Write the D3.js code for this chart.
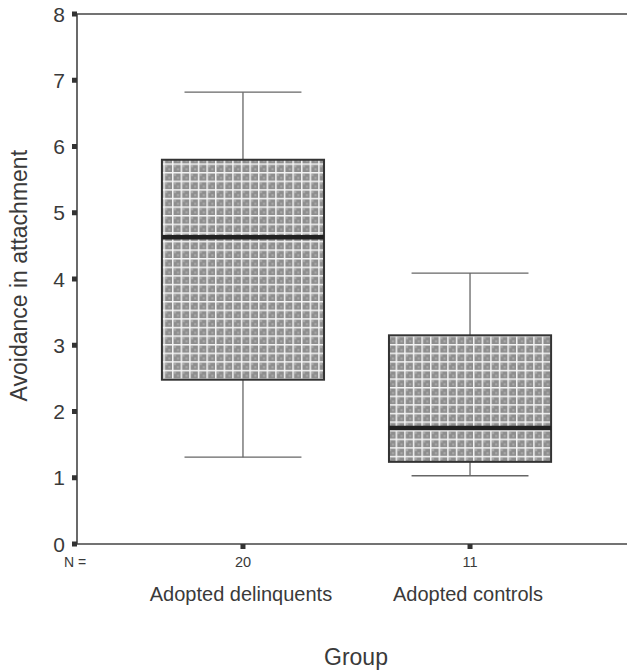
<!DOCTYPE html>
<html>
<head>
<meta charset="utf-8">
<script src="https://cdn.jsdelivr.net/npm/d3@7"></script>
<style>
  body { margin: 0; background: #fff; }
  text { font-family: "Liberation Sans", Arial, sans-serif; fill: #3a3a3a; }
</style>
</head>
<body>
<div id="chart"></div>
<script>
// group boxplot summaries
const groups = ['Adopted delinquents', 'Adopted controls'];
const counts = [20, 11];
const whiskerLow = [1.31, 1.03];
const q1 = [2.48, 1.24];
const median = [4.63, 1.75];
const q3 = [5.80, 3.15];
const whiskerHigh = [6.82, 4.09];
const yTicks = [0, 1, 2, 3, 4, 5, 6, 7, 8];

const width = 627, height = 671;
const margin = { top: 14, left: 77, bottom: 127 };

const svg = d3.select('#chart').append('svg')
  .attr('width', width)
  .attr('height', height);

// grey dither with white grid, like the printed fill
const pat = svg.append('defs').append('pattern')
  .attr('id', 'grid')
  .attr('patternUnits', 'userSpaceOnUse')
  .attr('width', 8.6)
  .attr('height', 8.6);
pat.append('rect').attr('width', 8.6).attr('height', 8.6).attr('fill', '#8e8e8e');
pat.append('rect').attr('x', 2).attr('y', 2).attr('width', 2).attr('height', 2).attr('fill', '#acacac');
pat.append('rect').attr('x', 5).attr('y', 5).attr('width', 2).attr('height', 2).attr('fill', '#acacac');
pat.append('rect').attr('x', 0).attr('y', 0).attr('width', 8.6).attr('height', 1.5).attr('fill', '#f4f4f4');
pat.append('rect').attr('x', 0).attr('y', 0).attr('width', 1.5).attr('height', 8.6).attr('fill', '#f4f4f4');

const y = d3.scaleLinear()
  .domain([0, 8])
  .range([height - margin.bottom, margin.top]);

const x = d3.scaleBand()
  .domain(groups)
  .range([margin.left, 636])
  .paddingInner(0)
  .paddingOuter(0.231);

const boxW = x.bandwidth() * 0.714;
const capW = x.bandwidth() * 0.515;
const cx = d => x(d) + x.bandwidth() / 2;

// axes frame
svg.append('line')
  .attr('x1', margin.left).attr('x2', width)
  .attr('y1', y(8)).attr('y2', y(8))
  .attr('stroke', '#444').attr('stroke-width', 1.6);
svg.append('line')
  .attr('x1', margin.left).attr('x2', width)
  .attr('y1', y(0)).attr('y2', y(0))
  .attr('stroke', '#444').attr('stroke-width', 1.6);
svg.append('line')
  .attr('x1', margin.left).attr('x2', margin.left)
  .attr('y1', y(0)).attr('y2', y(8))
  .attr('stroke', '#444').attr('stroke-width', 1.6);

// square tick marks
svg.selectAll('.ytick')
  .data(yTicks)
  .join('rect')
  .attr('x', margin.left - 5)
  .attr('y', d => y(d) - 2.5)
  .attr('width', 5)
  .attr('height', 5)
  .attr('fill', '#333');

svg.selectAll('.ylab')
  .data(yTicks)
  .join('text')
  .attr('x', 65)
  .attr('y', d => y(d))
  .attr('dy', '0.36em')
  .attr('text-anchor', 'end')
  .attr('font-size', 21)
  .text(d => d);

svg.selectAll('.xtick')
  .data(groups)
  .join('rect')
  .attr('x', d => cx(d) - 2.5)
  .attr('y', y(0))
  .attr('width', 5)
  .attr('height', 5)
  .attr('fill', '#333');

// N counts
svg.append('text')
  .attr('x', 64).attr('y', 567)
  .attr('font-size', 14)
  .text('N =');
svg.selectAll('.nlab')
  .data(groups)
  .join('text')
  .attr('x', d => cx(d))
  .attr('y', 567)
  .attr('text-anchor', 'middle')
  .attr('font-size', 14.5)
  .text((d, i) => counts[i]);

svg.selectAll('.xlab')
  .data(groups)
  .join('text')
  .attr('x', d => cx(d) - 2)
  .attr('y', 601)
  .attr('text-anchor', 'middle')
  .attr('font-size', 20)
  .text(d => d);

svg.append('text')
  .attr('x', 356).attr('y', 665)
  .attr('text-anchor', 'middle')
  .attr('font-size', 23)
  .text('Group');

svg.append('text')
  .attr('transform', `translate(27, ${y(4.05)}) rotate(-90)`)
  .attr('text-anchor', 'middle')
  .attr('font-size', 23)
  .text('Avoidance in attachment');

// boxes
const box = svg.selectAll('.box')
  .data(groups)
  .join('g')
  .attr('class', 'box');

box.append('line')
  .attr('x1', d => cx(d)).attr('x2', d => cx(d))
  .attr('y1', (d, i) => y(whiskerHigh[i])).attr('y2', (d, i) => y(q3[i]))
  .attr('stroke', '#666').attr('stroke-width', 1.3);
box.append('line')
  .attr('x1', d => cx(d)).attr('x2', d => cx(d))
  .attr('y1', (d, i) => y(q1[i])).attr('y2', (d, i) => y(whiskerLow[i]))
  .attr('stroke', '#666').attr('stroke-width', 1.3);
box.append('line')
  .attr('x1', d => cx(d) - capW / 2).attr('x2', d => cx(d) + capW / 2)
  .attr('y1', (d, i) => y(whiskerHigh[i])).attr('y2', (d, i) => y(whiskerHigh[i]))
  .attr('stroke', '#666').attr('stroke-width', 1.3);
box.append('line')
  .attr('x1', d => cx(d) - capW / 2).attr('x2', d => cx(d) + capW / 2)
  .attr('y1', (d, i) => y(whiskerLow[i])).attr('y2', (d, i) => y(whiskerLow[i]))
  .attr('stroke', '#666').attr('stroke-width', 1.3);

box.append('rect')
  .attr('x', d => cx(d) - boxW / 2)
  .attr('y', (d, i) => y(q3[i]))
  .attr('width', boxW)
  .attr('height', (d, i) => y(q1[i]) - y(q3[i]))
  .attr('fill', 'url(#grid)')
  .attr('stroke', '#333')
  .attr('stroke-width', 2);

box.append('line')
  .attr('x1', d => cx(d) - boxW / 2).attr('x2', d => cx(d) + boxW / 2)
  .attr('y1', (d, i) => y(median[i])).attr('y2', (d, i) => y(median[i]))
  .attr('stroke', '#222').attr('stroke-width', 4.5);
</script>
</body>
</html>
